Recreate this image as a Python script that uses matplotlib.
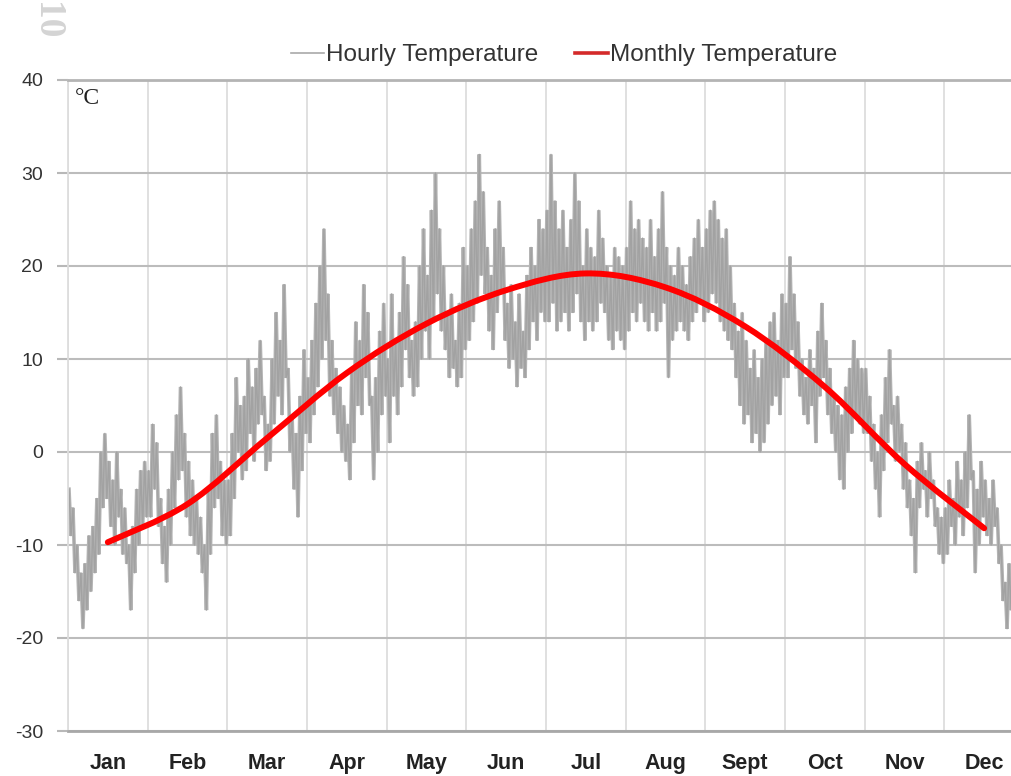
import numpy as np
import matplotlib
matplotlib.use('Agg')
import matplotlib.pyplot as plt
from matplotlib.path import Path
from matplotlib.patches import PathPatch
from matplotlib.lines import Line2D

months = ['Jan', 'Feb', 'Mar', 'Apr', 'May', 'Jun', 'Jul', 'Aug', 'Sept', 'Oct', 'Nov', 'Dec']
monthly_temp = [-9.7, -5.6, 1.5, 8.5, 13.8, 17.4, 19.2, 17.7, 13.5, 7.0, -1.3, -8.2]

hourly_jan = [-4, -9, -6, -13, -10, -16, -13, -19, -12, -17, -9, -15, -8, -13, -5, -11, 0, -6, 2, -5,
              -1, -8, -3, -10, 0, -7, -4, -11, -6, -12, -10, -17, -8, -13, -4, -10, -2, -8, -1, -7]
hourly_feb = [-2, -7, 3, -4, 1, -8, -5, -12, -8, -14, -4, -10, 0, -6, 4, -3, 7, -2, 2, -7,
              -1, -9, -3, -10, -5, -11, -7, -13, -10, -17, -4, -11, 2, -6, 4, -5, -1, -9, -3, -10]
hourly_mar = [-3, -9, 2, -5, 8, 0, 5, -3, 6, -2, 10, 2, 7, -1, 9, 3, 12, 4, 6, -2,
              3, -1, 10, 3, 15, 6, 12, 4, 18, 8, 9, 0, 4, -4, 2, -7, 6, -2, 11, 2]
hourly_apr = [8, 1, 12, 4, 16, 7, 20, 10, 24, 12, 17, 6, 12, 4, 9, 2, 7, 0, 5, -1,
              3, -3, 9, 1, 14, 5, 12, 4, 18, 8, 15, 5, 6, -3, 8, 0, 13, 4, 16, 6]
hourly_may = [10, 1, 17, 6, 12, 4, 15, 7, 21, 11, 18, 8, 12, 6, 14, 7, 20, 10, 24, 13,
              19, 10, 26, 14, 30, 17, 24, 13, 20, 11, 15, 8, 17, 9, 12, 7, 16, 8, 22, 11]
hourly_jun = [20, 12, 24, 14, 27, 16, 32, 19, 28, 17, 22, 13, 19, 11, 24, 15, 27, 17, 22, 12,
              16, 9, 18, 10, 14, 7, 17, 9, 13, 8, 19, 11, 22, 14, 20, 12, 25, 15, 24, 14]
hourly_jul = [26, 14, 32, 16, 27, 13, 24, 14, 26, 15, 22, 13, 25, 15, 30, 17, 27, 14, 20, 12,
              24, 14, 22, 13, 21, 14, 26, 16, 23, 15, 20, 12, 19, 11, 22, 13, 21, 12, 20, 11]
hourly_aug = [22, 13, 27, 15, 24, 14, 25, 16, 23, 14, 22, 13, 25, 15, 21, 13, 24, 14, 28, 16,
              22, 8, 20, 12, 19, 13, 22, 14, 20, 13, 18, 12, 21, 14, 23, 15, 25, 16, 22, 14]
hourly_sep = [24, 15, 26, 17, 27, 16, 25, 14, 23, 13, 24, 12, 20, 11, 16, 8, 13, 5, 15, 3,
              12, 4, 9, 1, 11, 2, 8, 0, 10, 1, 12, 3, 14, 5, 15, 6, 12, 4, 17, 8]
hourly_oct = [16, 8, 21, 11, 17, 9, 14, 6, 10, 4, 8, 3, 11, 5, 9, 1, 13, 6, 16, 8,
              12, 4, 9, 2, 6, 0, 5, -3, 4, -4, 7, 0, 9, 2, 12, 4, 10, 3, 9, 2]
hourly_nov = [9, 2, 6, -1, 3, -4, 0, -7, 4, -2, 8, 1, 11, 3, 5, -1, 6, 0, 3, -4,
              1, -6, -3, -9, -5, -13, -1, -6, 1, -4, -2, -7, 0, -5, -3, -8, -6, -11, -7, -12]
hourly_dec = [-6, -11, -3, -8, -5, -10, -1, -7, -3, -9, 0, -6, 4, -3, -2, -13, -4, -10, -1, -7,
              -3, -9, -5, -10, -3, -8, -6, -12, -10, -16, -14, -19, -12, -17, -10, -15, -11, -16, -9, -14]
hourly_by_month = [hourly_jan, hourly_feb, hourly_mar, hourly_apr, hourly_may, hourly_jun,
                   hourly_jul, hourly_aug, hourly_sep, hourly_oct, hourly_nov, hourly_dec]

yticks = [-30, -20, -10, 0, 10, 20, 30, 40]

plt.rcParams['font.family'] = ['Liberation Sans', 'DejaVu Sans']

W, H = 1012, 776
fig = plt.figure(figsize=(W / 100, H / 100), dpi=100)
ax = fig.add_axes([68 / W, 1 - 731 / H, (1024 - 68) / W, (731 - 80) / H])

# hourly series
hx, hy = [], []
for i, vals in enumerate(hourly_by_month):
    n = len(vals)
    hx.extend(i + (np.arange(n) + 0.5) / n)
    hy.extend(vals)
ax.plot(hx, hy, color='#b4b4b4', lw=2.6, zorder=2, solid_joinstyle='miter')
ax.plot(hx, hy, color='#a2a2a2', lw=1.0, zorder=2)

# monthly smooth curve (Catmull-Rom rendered as Bezier path)
px = np.arange(12) + 0.5
py = np.array(monthly_temp, dtype=float)
pts = np.column_stack([px, py])
ext = np.vstack([pts[0], pts, pts[-1]])
verts = [tuple(pts[0])]
codes = [Path.MOVETO]
for k in range(1, len(ext) - 2):
    p0, p1, p2, p3 = ext[k - 1], ext[k], ext[k + 1], ext[k + 2]
    c1 = p1 + (p2 - p0) / 6.0
    c2 = p2 - (p3 - p1) / 6.0
    verts += [tuple(c1), tuple(c2), tuple(p2)]
    codes += [Path.CURVE4] * 3
patch = PathPatch(Path(verts, codes), facecolor='none', edgecolor='#ff0000', lw=4.3,
                  capstyle='round', joinstyle='round', zorder=3)
ax.add_patch(patch)

ax.set_xlim(0, 12)
ax.set_ylim(-30, 40)
ax.set_yticks(yticks)
ax.set_yticklabels([str(v) for v in yticks], fontsize=14, color='#333333')
ax.set_xticks(range(13))
ax.set_xticklabels([''] * 13)
ax.set_xticks(np.arange(12) + 0.5, minor=True)
ax.set_xticklabels(months, minor=True, fontsize=15.5, fontweight='bold', color='#222222')
ax.tick_params(axis='x', which='both', length=0)
ax.tick_params(axis='x', which='minor', pad=16)
ax.tick_params(axis='y', length=8, width=1.5, color='#b8b8b8', pad=10)

ax.xaxis.grid(True, which='major', color='#dddddd', lw=1.3)
ax.yaxis.grid(True, color='#bcbcbc', lw=1.5)
ax.set_axisbelow(True)
ax.spines['right'].set_visible(False)
ax.spines['left'].set_color('#dddddd')
ax.spines['left'].set_linewidth(1.3)
ax.spines['top'].set_color('#b4b4b4')
ax.spines['top'].set_linewidth(2)
ax.spines['bottom'].set_color('#a8a8a8')
ax.spines['bottom'].set_linewidth(2)

ax.text(0.007, 0.987, '°C', transform=ax.transAxes, family='Liberation Serif', fontsize=17,
        va='top', ha='left', color='#222222')

handles = [Line2D([], [], color='#a9a9a9', lw=1.2), Line2D([], [], color='#d42a2a', lw=2.6)]
leg = ax.legend(handles, ['Hourly Temperature', 'Monthly Temperature'], loc='center',
                bbox_to_anchor=(0.519, 1.038), ncol=2, frameon=False, fontsize=17.5,
                handlelength=1.35, handletextpad=0.1, columnspacing=1.5)
for t in leg.get_texts():
    t.set_color('#333333')

fig.text(47 / W, 1 - 21 / H, '10', rotation=-90, color='#d4d4d4', fontsize=27, fontweight='bold',
         family='Liberation Serif', ha='center', va='center')

fig.savefig('out.png', dpi=100)
